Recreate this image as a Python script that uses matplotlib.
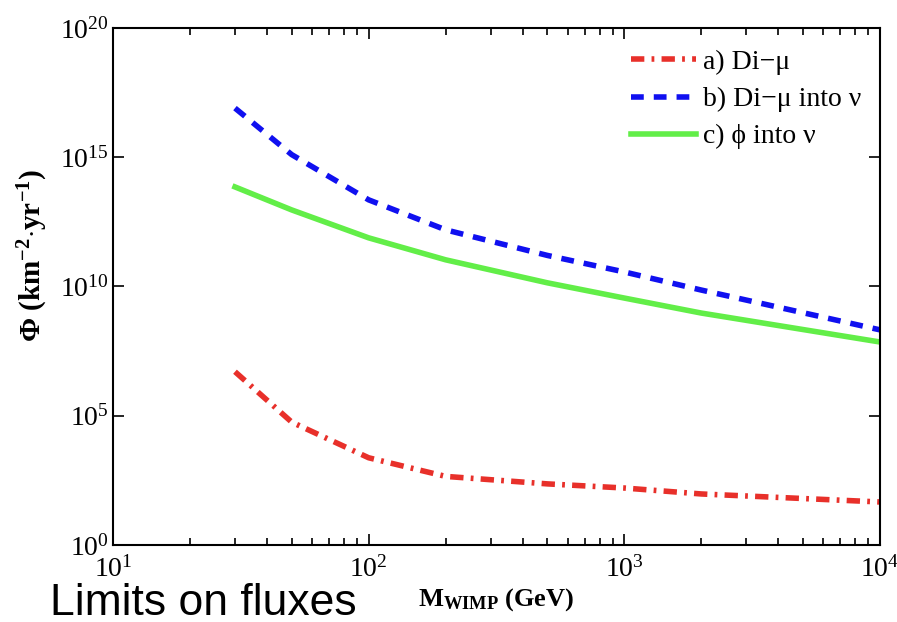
import numpy as np
import matplotlib
matplotlib.use("Agg")
import matplotlib.pyplot as plt
from matplotlib.ticker import LogLocator, NullLocator, FixedLocator

# ---------------------------
# Data
# ---------------------------
MASS = [30, 50, 100, 200, 500, 1000, 2000, 10000]  # GeV
LOG_DI_MU = [6.7, 4.75, 3.37, 2.65, 2.36, 2.2, 1.97, 1.66]
LOG_DI_MU_NU = [16.9, 15.1, 13.35, 12.19, 11.2, 10.56, 9.86, 8.32]
LOG_PHI_NU = [13.85, 12.96, 11.88, 11.03, 10.14, 9.55, 8.97, 7.85]

LABELS = ["a) Di\u2212\u03bc", "b) Di\u2212\u03bc into \u03bd", "c) \u03d5 into \u03bd"]
Y_TICKS = [1e0, 1e5, 1e10, 1e15, 1e20]

SERIF = ["Liberation Serif", "DejaVu Serif"]

plt.rcParams["font.family"] = SERIF
plt.rcParams["mathtext.fontset"] = "custom"
plt.rcParams["mathtext.rm"] = "Liberation Serif"
plt.rcParams["mathtext.it"] = "Liberation Serif:italic"
plt.rcParams["mathtext.bf"] = "Liberation Serif:bold"

fig = plt.figure(figsize=(8.97, 6.22), dpi=100)
ax = fig.add_axes([0.126, 0.124, 0.855, 0.831])

x = np.array(MASS, dtype=float)
ax.plot(x, 10 ** np.array(LOG_DI_MU), color="#e8302a", lw=4,
        dashes=(2.4, 1.3, 0.5, 1.3), label=LABELS[0])
ax.plot(x, 10 ** np.array(LOG_DI_MU_NU), color="#1010f0", lw=4,
        dashes=(2.3, 1.8), label=LABELS[1])
ax.plot(x, 10 ** np.array(LOG_PHI_NU), color="#62ee48", lw=4,
        label=LABELS[2])

ax.set_xscale("log")
ax.set_yscale("log")
ax.set_xlim(10, 1e4)
ax.set_ylim(1, 1e20)

ax.yaxis.set_major_locator(FixedLocator(Y_TICKS))
ax.yaxis.set_minor_locator(NullLocator())
ax.xaxis.set_major_locator(LogLocator(base=10))
ax.xaxis.set_minor_locator(LogLocator(base=10, subs=np.arange(2, 10)))

ax.tick_params(which="both", direction="in", top=True, right=True,
               labelsize=20, width=1.2)
ax.tick_params(which="major", length=8)
ax.tick_params(axis="y", which="major", pad=3)
ax.tick_params(axis="x", which="major", pad=8)
ax.tick_params(which="minor", length=5)
for s in ax.spines.values():
    s.set_linewidth(1.5)

ax.set_ylabel(r"$\mathbf{\Phi}$ (km$^{\mathbf{-2}}$$\cdot$yr$^{\mathbf{-1}}$)",
              fontsize=21, fontweight="bold")
ax.yaxis.set_label_coords(-0.082, 0.56)
ax.set_xlabel(r"M$_{\mathbf{WIMP}}$ (GeV)", fontsize=19, fontweight="bold")
ax.xaxis.set_label_coords(0.5, -0.106)
ax.xaxis.label.set_va("center")

leg = ax.legend(loc="upper left", bbox_to_anchor=(0.675, 0.958),
                frameon=False, fontsize=20, handlelength=2.35,
                handletextpad=0.25, labelspacing=0.42,
                borderaxespad=0, borderpad=0)

fig.text(0.056, 0.012, "Limits on fluxes", fontsize=32, va="baseline",
         family=["Liberation Sans", "DejaVu Sans"])

fig.savefig("out.png", dpi=100)
